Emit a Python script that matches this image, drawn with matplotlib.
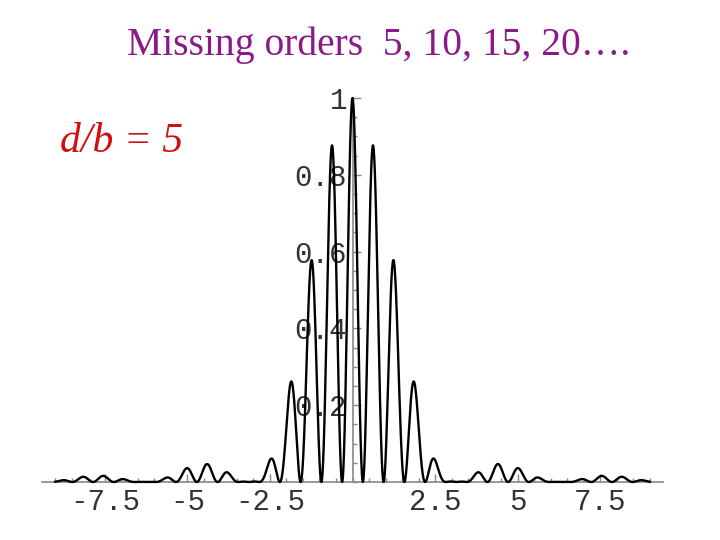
import numpy as np
import matplotlib.pyplot as plt
from matplotlib.ticker import MultipleLocator

plt.rcParams['axes.unicode_minus'] = False

# slit spacing over slit width, and the plotted range of the phase variable
d_over_b = 5
x_min, x_max = -9.0, 9.0

x_ticks = [-7.5, -5, -2.5, 2.5, 5, 7.5]
x_labels = ['-7.5', '-5', '-2.5', '2.5', '5', '7.5']
y_ticks = [0.2, 0.4, 0.6, 0.8, 1]
y_labels = ['0.2', '0.4', '0.6', '0.8', '1']

title = 'Missing orders  5, 10, 15, 20\u2026.'
ratio_label = 'd/b = 5'


# double-slit intensity: single-slit envelope times two-slit fringes
def intensity(x):
    return np.sinc(x / np.pi) ** 2 * np.cos(d_over_b * x) ** 2


x = np.linspace(x_min, x_max, 4000)
y = intensity(x)

fig = plt.figure(figsize=(7.2, 5.4), dpi=100)
ax = fig.add_axes([42 / 720, 58 / 540, 621 / 720, 384 / 540])

ax.plot(x, y, color='black', lw=1.7, clip_on=False, zorder=3)

ax.set_xlim(-9.4, 9.4)
ax.set_ylim(0, 1)

for side in ['top', 'right']:
    ax.spines[side].set_visible(False)
ax.spines['left'].set_position(('data', 0))
ax.spines['bottom'].set_position(('data', 0))
for side in ['left', 'bottom']:
    ax.spines[side].set_color('#888888')
    ax.spines[side].set_linewidth(1.2)

mono = {'family': 'Liberation Mono', 'size': 21, 'color': '#333333'}
ax.set_xticks(x_ticks)
ax.set_xticklabels(x_labels, fontdict=mono)
ax.set_yticks(y_ticks)
ax.set_yticklabels(y_labels, fontdict=mono)
ax.xaxis.set_minor_locator(MultipleLocator(0.5))
ax.yaxis.set_minor_locator(MultipleLocator(0.05))
ax.tick_params(which='both', direction='in', color='#888888', width=1)
ax.tick_params(which='major', length=6)
ax.tick_params(which='minor', length=3)
ax.tick_params(axis='x', pad=4)
ax.tick_params(axis='y', pad=4)

fig.text(127 / 720, 1 - 55 / 540, title, family='Liberation Serif', size=28.5,
         color='#8B1A89', ha='left', va='baseline')
fig.text(60 / 720, 1 - 152 / 540, ratio_label, family='Liberation Serif',
         style='italic', size=30, color='#D01010', ha='left', va='baseline')

fig.savefig('out.png', dpi=100)
